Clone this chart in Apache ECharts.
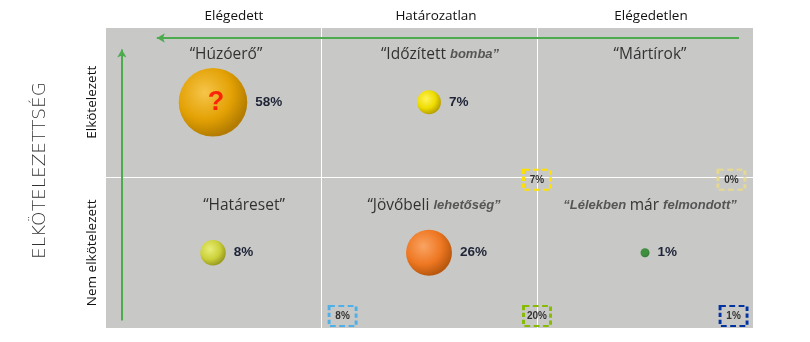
<!DOCTYPE html>
<html><head><meta charset="utf-8">
<script src="https://cdn.jsdelivr.net/npm/echarts@6/dist/echarts.min.js"></script>
<style>html,body{margin:0;padding:0;background:#fff}#c{width:810px;height:342px}</style>
</head><body><div id="c"></div>
<script>
// ---- data ----
const satisfaction = ['Elégedett', 'Határozatlan', 'Elégedetlen'];
const commitment = ['Nem elkötelezett', 'Elkötelezett'];
const segNames = ['Húzóerő', 'Időzített bomba', 'Mártírok', 'Határeset', 'Jövőbeli lehetőség', 'Lélekben már felmondott'];
const segCol = [0, 1, 2, 0, 1, 2];
const segRow = [1, 1, 1, 0, 0, 0];
const segShare = [58, 7, null, 8, 26, 1];
const boxValues = [7, 0, 8, 20, 1];
const boxX = [2.0, 2.9, 1.1, 2.0, 2.91];
const boxY = [0.985, 0.985, 0.08, 0.08, 0.08];

// ---- styles ----
const F = "'Open Sans','Noto Sans',sans-serif";
const ballColors = [
  ['#f6c54a', '#e3a104', '#b37c00'],
  ['#fff35a', '#eedc00', '#b8a200'],
  null,
  ['#e8ed7a', '#ccd13a', '#9a9c22'],
  ['#f9a463', '#ee7722', '#b8580e'],
  ['#3f8f3f', '#3f8f3f', '#357a35']
];
const boxColors = ['#ffe100', '#e6d98f', '#4fb0e8', '#86bb00', '#0033a0'];
const titleRich = {
  n: { fontFamily: F, fontSize: 15.5, color: '#0a0a0a' },
  b: { fontFamily: 'Liberation Sans, Arial', fontSize: 13, fontWeight: 'bold', fontStyle: 'italic', color: '#383838' }
};
const titleFmt = [
  '{n|“Húzóerő”}',
  '{n|“Időzített }{b|bomba”}',
  '{n|“Mártírok”}',
  '{n|“Határeset”}',
  '{n|“Jövőbeli }{b|lehetőség”}',
  '{b|“Lélekben }{n|már }{b|felmondott”}'
];
const titleOffset = [[13, 0], [11, 0], [5, 0], [31, 0], [5, 0], [5, 0]];
const topLabelPad = [[0, 0, 0, 42], [0, 0, 0, 14], [0, 0, 0, 12]];

const bubbleData = [];
const titleData = [];
segNames.forEach((n, i) => {
  const x = segCol[i] + 0.5, y = segRow[i] + 0.5;
  if (segShare[i] != null) {
    const c = ballColors[i];
    bubbleData.push({
      name: n, value: [x, y, segShare[i]],
      itemStyle: { color: { type: 'radial', x: 0.38, y: 0.36, r: 0.72,
        colorStops: [{ offset: 0, color: c[0] }, { offset: 0.55, color: c[1] }, { offset: 0.9, color: c[2] }, { offset: 1, color: c[2] }] } }
    });
  }
  titleData.push({ name: n, value: [x, y + 0.315], label: { formatter: titleFmt[i], offset: titleOffset[i] } });
});
const boxData = boxValues.map((v, i) => ({
  value: [boxX[i], boxY[i], v],
  itemStyle: { borderColor: boxColors[i] }
}));

const chart = echarts.init(document.getElementById('c'));
chart.setOption({
  animation: false,
  grid: { left: 105, right: 57, top: 27, bottom: 14, show: true, backgroundColor: '#c8c8c7', borderWidth: 0 },
  xAxis: [
    { type: 'value', min: 0, max: 3, interval: 1, axisLabel: { show: false }, axisTick: { show: false },
      axisLine: { show: false }, splitLine: { lineStyle: { color: '#ffffff', width: 1 } } },
    { type: 'category', position: 'top', data: satisfaction, axisTick: { show: false }, axisLine: { show: false },
      axisLabel: { margin: 4, fontFamily: F, fontSize: 13.5, color: '#111',
        formatter: (v, i) => '{t' + i + '|' + v + '}',
        rich: { t0: { padding: topLabelPad[0], fontFamily: F, fontSize: 13.5, color: '#111' },
                t1: { padding: topLabelPad[1], fontFamily: F, fontSize: 13.5, color: '#111' },
                t2: { padding: topLabelPad[2], fontFamily: F, fontSize: 13.5, color: '#111' } } } }
  ],
  yAxis: [
    { type: 'value', min: 0, max: 2, interval: 1, axisLabel: { show: false }, axisTick: { show: false },
      axisLine: { show: false }, splitLine: { lineStyle: { color: '#ffffff', width: 1 } },
      name: 'ELKÖTELEZETTSÉG', nameLocation: 'middle', nameRotate: 90, nameGap: 55,
      nameTextStyle: { fontFamily: "'DejaVu Sans',sans-serif", fontSize: 18.5, color: '#333', fontWeight: 300, padding: [0, 0, 0, 14] } },
    { type: 'category', position: 'left', data: commitment, axisTick: { show: false }, axisLine: { show: false },
      axisLabel: { rotate: 90, margin: 6, fontFamily: F, fontSize: 13.5, color: '#111' } }
  ],
  series: [
    { type: 'scatter', name: 'bubbles', data: bubbleData, xAxisIndex: 0, yAxisIndex: 0,
      symbolSize: d => 9 * Math.sqrt(d[2]),
      itemStyle: { opacity: 1 },
      label: { show: true, position: 'right', distance: 8, formatter: p => p.value[2] + '%',
        fontFamily: "'Liberation Sans Narrow','Liberation Sans',Arial", fontWeight: 'bold', fontSize: 13.5, color: '#1e2436' },
      markLine: { silent: true, symbol: ['none', 'arrow'], symbolSize: [7, 8], label: { show: false },
        lineStyle: { color: '#4cab4c', width: 2, type: 'solid', opacity: 1 },
        data: [
          [{ coord: [2.935, 1.927] }, { coord: [0.24, 1.927] }],
          [{ coord: [0.078, 0.05] }, { coord: [0.078, 1.85] }]
        ] }
    },
    { type: 'scatter', name: 'question', data: [bubbleData[0].value], symbolSize: 0,
      label: { show: true, position: 'inside', formatter: '?', fontFamily: 'Liberation Sans, Arial', fontWeight: 'bold', fontSize: 27, color: '#ff0000', offset: [3, 0] } },
    { type: 'scatter', name: 'titles', data: titleData, symbolSize: 0,
      label: { show: true, position: 'inside', rich: titleRich } },
    { type: 'scatter', name: 'boxes', data: boxData, symbol: 'rect', symbolSize: [27, 20], clip: false,
      itemStyle: { color: 'rgba(0,0,0,0)', borderWidth: 2.5, borderType: [5, 3], opacity: 1 },
      label: { show: true, position: 'inside', formatter: p => p.value[2] + '%',
        fontFamily: 'Liberation Sans, Arial', fontWeight: 'bold', fontSize: 10, color: '#333' } }
  ]
});
</script></body></html>
